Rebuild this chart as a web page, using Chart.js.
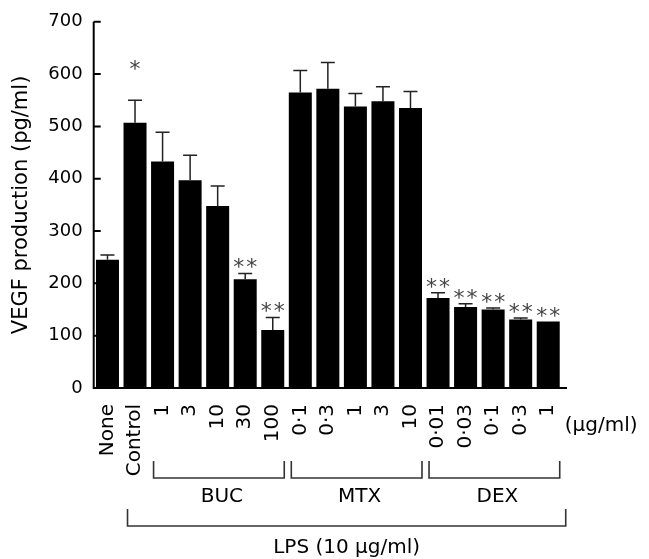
<!DOCTYPE html>
<html>
<head>
<meta charset="utf-8">
<script src="https://cdn.jsdelivr.net/npm/chart.js@4.4.1/dist/chart.umd.min.js"></script>
<style>
  html, body { margin: 0; padding: 0; background: #fff; }
</style>
</head>
<body>
<canvas id="chart" width="649" height="559"></canvas>
<script>
// categories: untreated, LPS control, then drug doses (µg/ml)
const labels = ['None', 'Control', '1', '3', '10', '30', '100', '0·1', '0·3', '1', '3', '10', '0·01', '0·03', '0·1', '0·3', '1'];
const vegf = [245, 507, 433, 397, 348, 208, 111, 565, 572, 538, 548, 535, 172, 155, 150, 131, 127];
const sem = [9, 43, 56, 48, 38, 11, 24, 42, 50, 25, 28, 32, 10, 6, 3, 3, 0];
const sigMarks = ['', '*', '', '', '', '**', '**', '', '', '', '', '', '**', '**', '**', '**', '**'];
const yTicks = [0, 100, 200, 300, 400, 500, 600, 700];

const groupNames = ['BUC', 'MTX', 'DEX'];
const groupFirst = [2, 7, 12];
const groupLast = [6, 11, 16];
const lpsFirst = 1;
const lpsLast = 16;
const lpsLabel = 'LPS (10 μg/ml)';
const unitLabel = '(μg/ml)';

const FONT = "'DejaVu Sans', Verdana, sans-serif";
Chart.defaults.font.family = FONT;
Chart.defaults.color = '#000';

const extras = {
    id: 'extras',
    afterDatasetsDraw(chart) {
        const { ctx, chartArea: a, scales: { x, y } } = chart;
        const bars = chart.getDatasetMeta(0).data;
        const hw = bars[0].width / 2;
        ctx.save();

        // error bars (upper only)
        ctx.strokeStyle = '#222';
        ctx.lineWidth = 1.5;
        vegf.forEach((v, i) => {
            if (!sem[i]) return;
            const cx = x.getPixelForValue(i);
            const y0 = y.getPixelForValue(v);
            const y1 = y.getPixelForValue(v + sem[i]);
            ctx.beginPath();
            ctx.moveTo(cx, y0);
            ctx.lineTo(cx, y1);
            ctx.moveTo(cx - 7, y1);
            ctx.lineTo(cx + 7, y1);
            ctx.stroke();
        });

        // significance asterisks
        ctx.fillStyle = '#444';
        ctx.font = '22px ' + FONT;
        ctx.textAlign = 'center';
        ctx.textBaseline = 'alphabetic';
        sigMarks.forEach((m, i) => {
            if (!m) return;
            const cx = x.getPixelForValue(i);
            const top = y.getPixelForValue(vegf[i] + sem[i]);
            const cy = top - (m.length === 1 ? 37 : 12);
            for (let k = 0; k < m.length; k++) {
                const px = cx + (k - (m.length - 1) / 2) * 13;
                ctx.fillText('*', px, cy + 0.59 * 22);
            }
        });

        // axes with inward ticks
        ctx.strokeStyle = '#000';
        ctx.lineWidth = 2;
        ctx.beginPath();
        ctx.moveTo(a.left, y.getPixelForValue(700));
        ctx.lineTo(a.left, a.bottom);
        ctx.lineTo(a.right + 5, a.bottom);
        yTicks.forEach(t => {
            const py = y.getPixelForValue(t);
            ctx.moveTo(a.left, py);
            ctx.lineTo(a.left + 7, py);
        });
        ctx.stroke();

        // group brackets
        ctx.strokeStyle = '#333';
        ctx.lineWidth = 1.6;
        ctx.fillStyle = '#000';
        ctx.font = '20px ' + FONT;
        ctx.textBaseline = 'middle';
        groupNames.forEach((name, g) => {
            const lx = x.getPixelForValue(groupFirst[g]) - hw + 2.5;
            const rx = x.getPixelForValue(groupLast[g]) + hw;
            ctx.beginPath();
            ctx.moveTo(lx, 461);
            ctx.lineTo(lx, 478);
            ctx.lineTo(rx, 478);
            ctx.lineTo(rx, 461);
            ctx.stroke();
            ctx.fillText(name, (lx + rx) / 2 + 3, 497);
        });

        const lx = x.getPixelForValue(lpsFirst) - hw + 4;
        const rx = x.getPixelForValue(lpsLast) + hw + 6;
        ctx.beginPath();
        ctx.moveTo(lx, 509);
        ctx.lineTo(lx, 526);
        ctx.lineTo(rx, 526);
        ctx.lineTo(rx, 509);
        ctx.stroke();
        ctx.fillText(lpsLabel, (lx + rx) / 2, 548);

        ctx.textAlign = 'left';
        ctx.fillText(unitLabel, rx - 1, 426);
        ctx.restore();
    }
};

new Chart(document.getElementById('chart'), {
    type: 'bar',
    data: {
        labels: labels,
        datasets: [{
            data: vegf,
            backgroundColor: '#000',
            borderWidth: 0,
            barPercentage: 0.835,
            categoryPercentage: 1
        }]
    },
    options: {
        responsive: false,
        animation: false,
        devicePixelRatio: 1,
        layout: { padding: { top: 20, right: 87, bottom: 0, left: 0 } },
        plugins: {
            legend: { display: false },
            tooltip: { enabled: false }
        },
        scales: {
            x: {
                grid: { display: false, drawTicks: false },
                border: { display: false },
                ticks: {
                    color: '#000',
                    font: { size: 20 },
                    minRotation: 90,
                    maxRotation: 90,
                    autoSkip: false,
                    padding: 16
                },
                afterFit: s => { s.height = 171; }
            },
            y: {
                min: 0,
                max: 700,
                grid: { display: false, drawTicks: false },
                border: { display: false },
                ticks: {
                    stepSize: 100,
                    color: '#000',
                    font: { size: 18 },
                    padding: 11
                },
                title: {
                    display: true,
                    text: 'VEGF production (pg/ml)',
                    color: '#000',
                    font: { size: 21 },
                    padding: { top: 9, bottom: 0 }
                },
                afterFit: s => { s.width = 93.7; }
            }
        }
    },
    plugins: [extras]
});
</script>
</body>
</html>
